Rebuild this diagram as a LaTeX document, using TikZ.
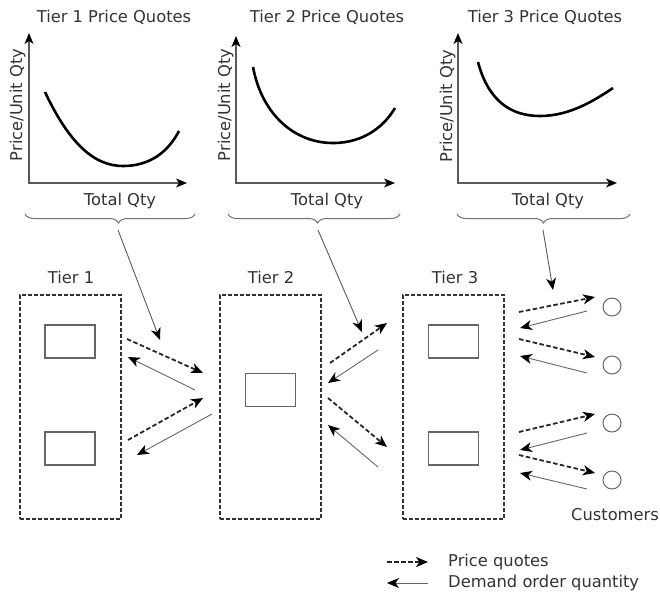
\documentclass[tikz,border=0pt]{standalone}
\usepackage{fontspec}
\setmainfont{DejaVu Sans}
\usetikzlibrary{arrows.meta,decorations.pathreplacing}
\begin{document}
\begin{tikzpicture}[x=1pt,y=-1pt,
  txt/.style={font=\fontsize{16.3}{19}\selectfont, text=black!80, inner sep=0pt, anchor=base},
  axis/.style={draw=black!65, line width=1.4pt, {Stealth[length=11pt,width=9pt,inset=3pt,color=black]}-{Stealth[length=11pt,width=9pt,inset=3pt,color=black]}},
  curve/.style={line width=2.6pt, black},
  bracestyle/.style={draw=black!55, line width=1pt, decorate, decoration={brace, mirror, amplitude=9pt}},
  tierbox/.style={draw=black!80, line width=1.3pt, dash pattern=on 4pt off 2pt, minimum width=101pt, minimum height=224pt, inner sep=0pt},
  firm/.style={draw=black!60, line width=1.2pt, minimum width=50pt, minimum height=33pt, inner sep=0pt},
  cust/.style={circle, draw=black!60, line width=1pt, minimum size=18pt, inner sep=0pt},
  tip/.style={-{Stealth[length=12pt,width=10pt,inset=3.5pt,color=black]}},
  quote/.style={line width=1.8pt, black!85, dash pattern=on 4.5pt off 2.5pt, tip},
  order/.style={line width=0.9pt, black!60, tip},
  feed/.style={line width=0.9pt, black!65, tip}
]
\useasboundingbox (0,0) rectangle (660,598);

% ---------- charts ----------
\node[txt] (t1) at (114,22) {Tier 1 Price Quotes};
\node[txt] (t2) at (327,22) {Tier 2 Price Quotes};
\node[txt] (t3) at (545,22) {Tier 3 Price Quotes};

\draw[axis] (29,33) -- (29,183) -- (187,183);
\draw[axis] (236,36) -- (236,183) -- (395,183);
\draw[axis] (458,33) -- (458,183) -- (617,183);

\node[txt, rotate=90] (y1) at (22,105) {Price/Unit Qty};
\node[txt, rotate=90] (y2) at (230,105) {Price/Unit Qty};
\node[txt, rotate=90] (y3) at (452,106) {Price/Unit Qty};

\node[txt] (x1) at (120,205) {Total Qty};
\node[txt] (x2) at (327,205) {Total Qty};
\node[txt] (x3) at (548,205) {Total Qty};

\draw[curve] (45,92) .. controls (70,145) and (95,166) .. (123,166)
             .. controls (150,166) and (168,152) .. (179,131);
\draw[curve] (253,67) .. controls (262,115) and (295,143) .. (333,143)
             .. controls (365,143) and (385,125) .. (395,108);
\draw[curve] (478,62) .. controls (488,100) and (510,116) .. (540,116)
             .. controls (570,116) and (595,100) .. (613,88);

\draw[bracestyle, decoration={aspect=0.55}] (25,214) -- (195,214);
\draw[bracestyle, decoration={aspect=0.52}] (228,214) -- (400,214);
\draw[bracestyle, decoration={aspect=0.5}] (457,214) -- (630,214);

\coordinate (b1) at (118,230);
\coordinate (b2) at (318,230);
\coordinate (b3) at (543,230);

% ---------- tiers ----------
\node[txt] (l1) at (71,283) {Tier 1};
\node[txt] (l2) at (271,283) {Tier 2};
\node[txt] (l3) at (455,283) {Tier 3};

\node[tierbox] (T1) at (70.5,407) {};
\node[tierbox] (T2) at (270.5,407) {};
\node[tierbox] (T3) at (453.5,407) {};

\node[firm] (f1a) at (70,341.5) {};
\node[firm] (f1b) at (70,448.5) {};
\node[firm] (f2) at (270.5,390) {};
\node[firm] (f3a) at (453.5,341.5) {};
\node[firm] (f3b) at (453.5,448.5) {};

\node[cust] (c1) at (612,307) {};
\node[cust] (c2) at (612,365) {};
\node[cust] (c3) at (612,423) {};
\node[cust] (c4) at (612,480) {};
\node[txt] (cl) at (615,520) {Customers};

% feed arrows from the quote charts
\coordinate (p1) at (160,340);
\coordinate (p2) at (362,332);
\coordinate (p3) at (553,290);
\draw[feed] (b1) -- (p1);
\draw[feed] (b2) -- (p2);
\draw[feed] (b3) -- (p3);

% Tier 1 <-> Tier 2
\draw[quote] (127,339) -- (203,373);
\draw[order] (195,390) -- (128,357);
\draw[quote] (128,440) -- (203,398);
\draw[order] (212,414) -- (137,455);

% Tier 2 <-> Tier 3
\draw[quote] (330,363) -- (387,323);
\draw[order] (378,350) -- (328,383);
\draw[quote] (328,398) -- (387,447);
\draw[order] (378,467) -- (328,425);

% Tier 3 <-> customers
\draw[quote] (519,312) -- (595,297);
\draw[order] (587,311) -- (520,328);
\draw[quote] (519,339) -- (595,357);
\draw[order] (587,373) -- (520,356);
\draw[quote] (519,432) -- (595,414);
\draw[order] (587,433) -- (520,450);
\draw[quote] (519,455) -- (595,473);
\draw[order] (587,489) -- (520,473);

% ---------- legend ----------
\coordinate (lq0) at (387,562);
\coordinate (lq1) at (428,562);
\coordinate (lo0) at (428,583);
\coordinate (lo1) at (387,583);
\draw[quote] (lq0) -- (lq1);
\draw[order] (lo0) -- (lo1);
\node[txt, anchor=base west] (lt1) at (448,566) {Price quotes};
\node[txt, anchor=base west] (lt2) at (448,587) {Demand order quantity};
\end{tikzpicture}
\end{document}
